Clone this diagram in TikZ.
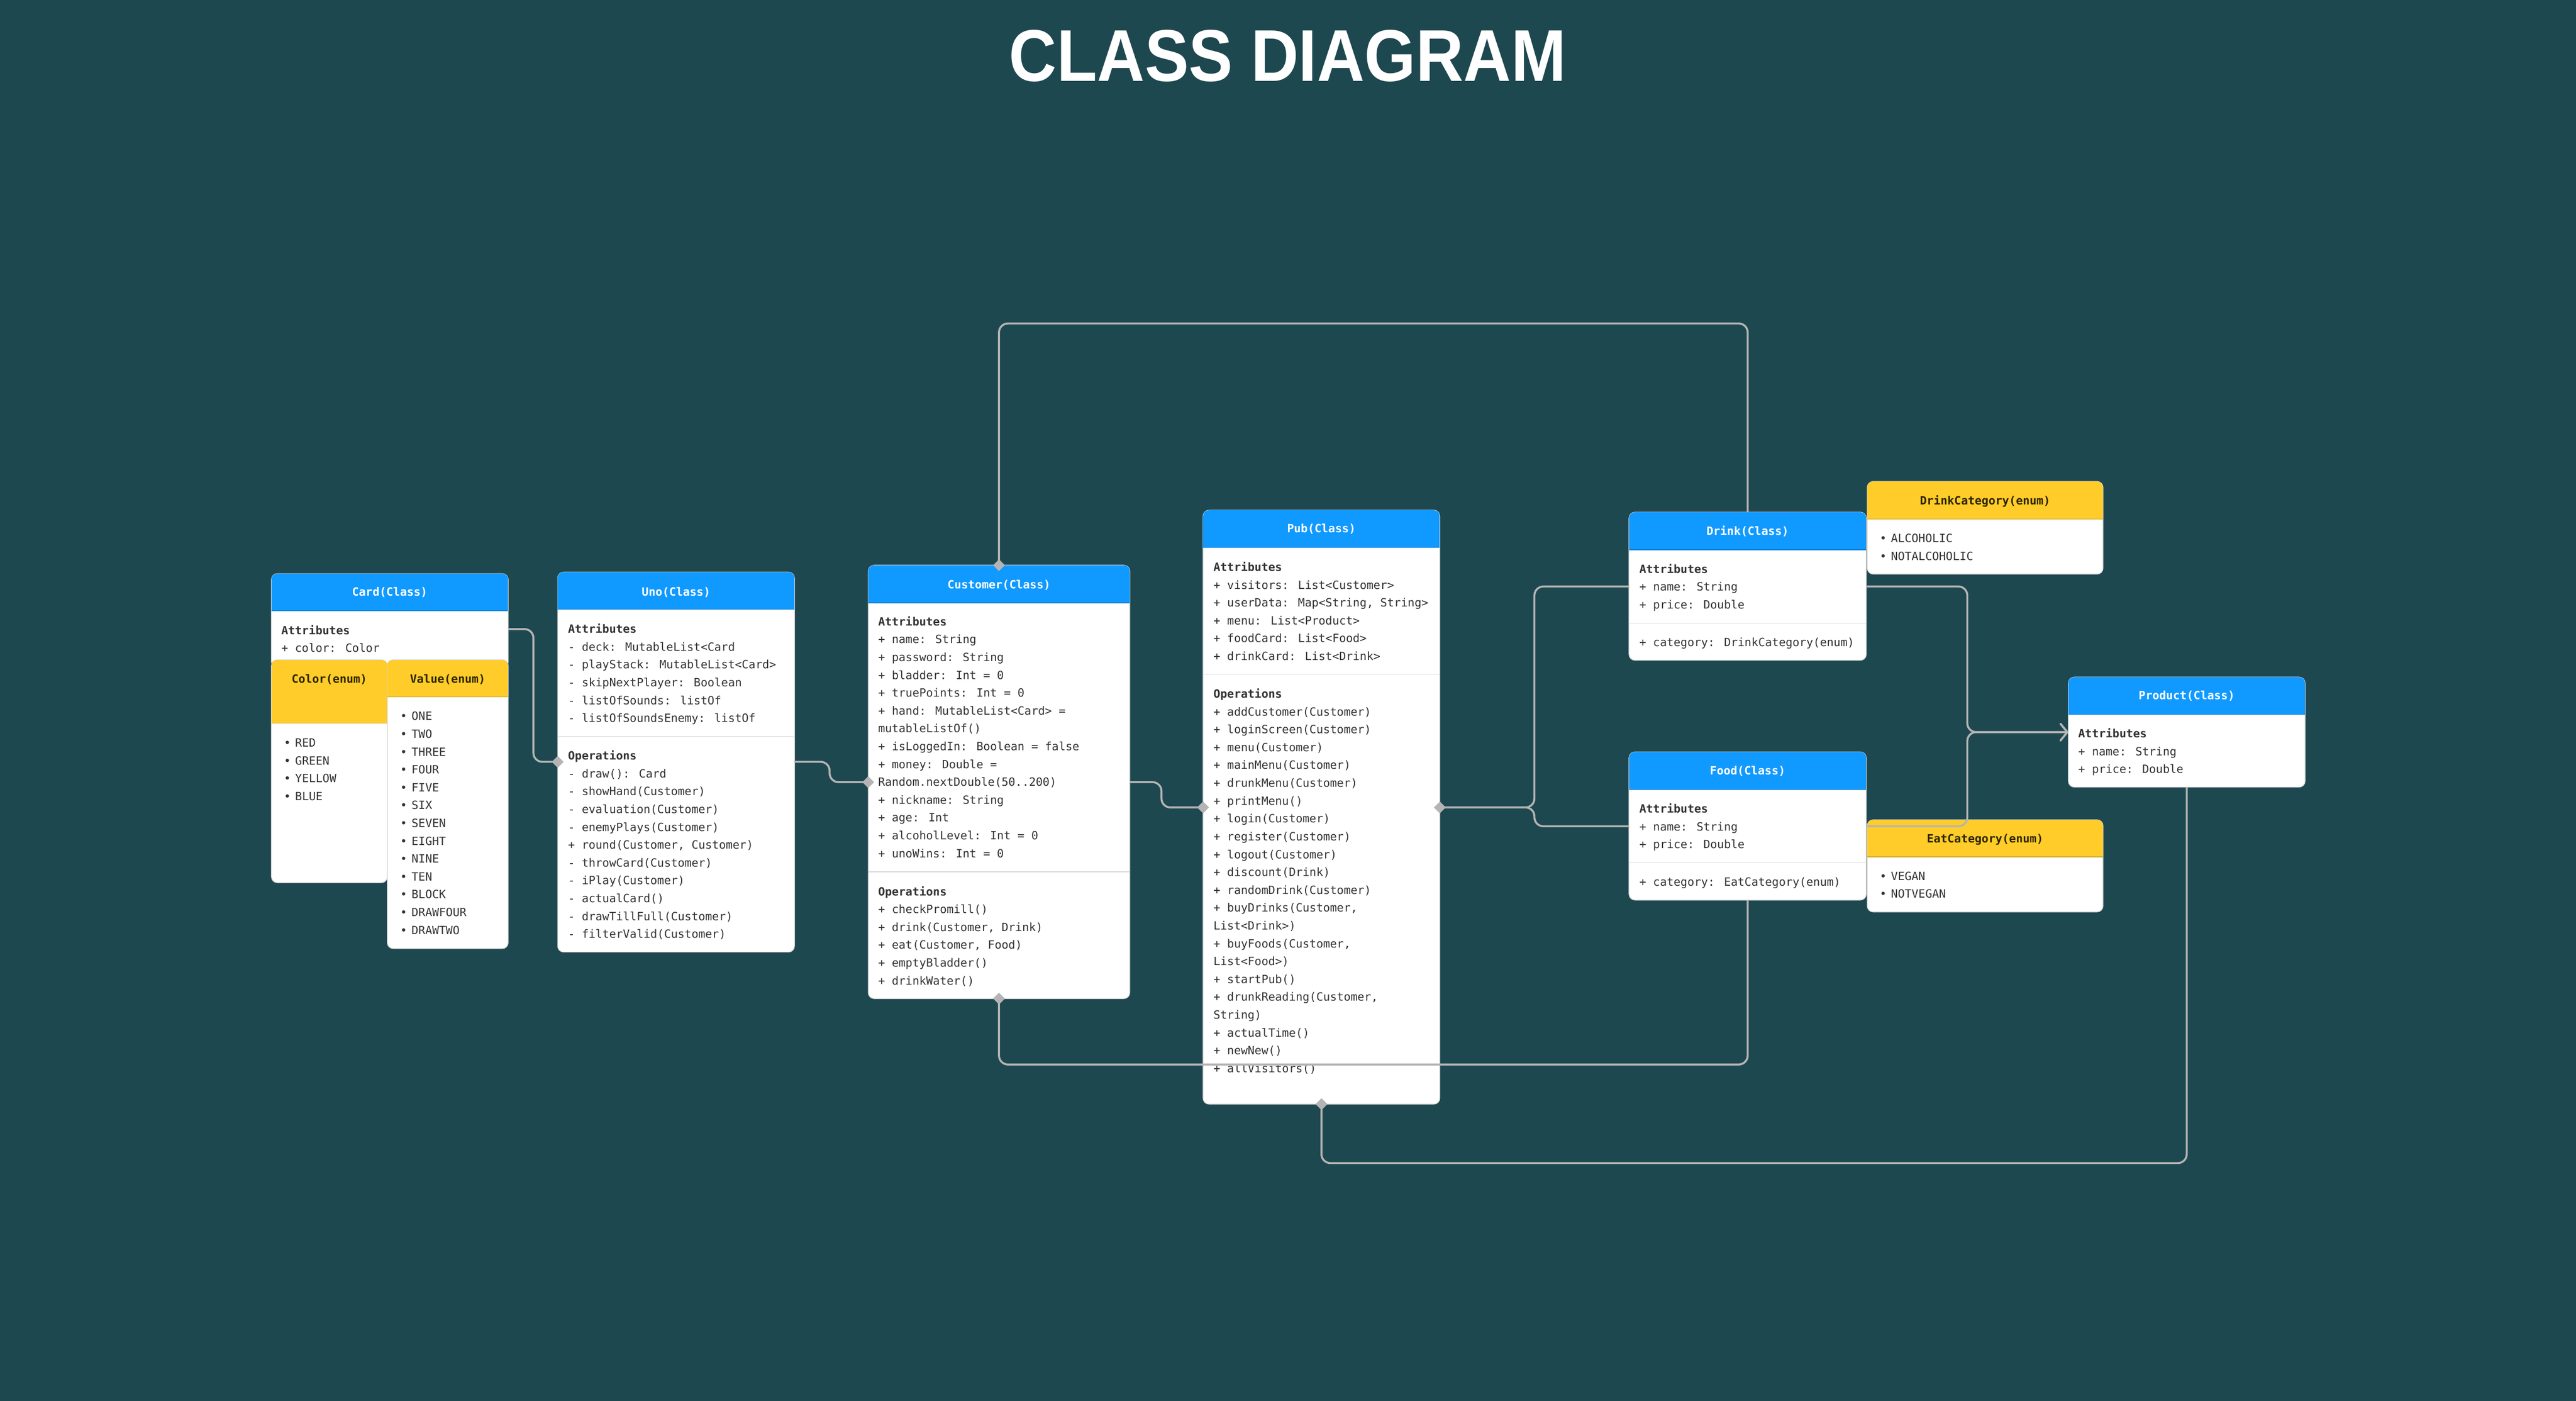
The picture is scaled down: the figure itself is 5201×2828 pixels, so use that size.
\documentclass[tikz,border=0pt]{standalone}
\usepackage{fontspec}
\usepackage{graphicx}
\usetikzlibrary{shapes.geometric,arrows.meta}
\newfontfamily\mono{DejaVu Sans Mono}
\newfontfamily\titlefont{Liberation Sans}
\definecolor{bgc}{RGB}{30,72,80}
\definecolor{hblue}{RGB}{16,153,255}
\definecolor{hyellow}{RGB}{255,204,41}
\definecolor{conn}{RGB}{180,180,180}
\definecolor{sepc}{RGB}{215,215,215}
\definecolor{txtc}{RGB}{51,51,51}
\definecolor{ytxt}{RGB}{46,37,0}
\tikzset{
  boxbody/.style={rectangle, rounded corners=12pt, fill=white, draw=sepc, line width=1.5pt,
    inner sep=0pt, outer sep=0pt, anchor=north west},
  txt/.style={anchor=base west, inner sep=0pt, outer sep=0pt, text=txtc, font=\mono\fontsize{23}{27}\selectfont},
  btxt/.style={txt, font=\mono\bfseries\fontsize{23}{27}\selectfont},
  htxtw/.style={anchor=base, inner sep=0pt, text=white, font=\mono\bfseries\fontsize{23}{27}\selectfont},
  htxty/.style={anchor=base, inner sep=0pt, text=ytxt, font=\mono\bfseries\fontsize{23}{27}\selectfont},
  sepline/.style={draw=sepc, line width=1.5pt},
  connector/.style={draw=conn, line width=4pt, rounded corners=18pt},
  dia/.style={diamond, fill=conn, minimum width=24pt, minimum height=24pt, inner sep=0pt},
  barb/.style={-{Straight Barb[length=14pt,width=34pt,line width=4pt,round]}}
}
\newcommand\umlbox[7]{%
  \node[boxbody, minimum width=#4pt, minimum height=#5pt] (#1) at (#2,#3) {};
  \begin{scope}
    \clip[rounded corners=12pt] (#1.north west) rectangle (#1.south east);
    \fill[#7] (#1.north west) rectangle ([yshift=-#6pt]#1.north east);
    \draw[#7!82!black, line width=1.5pt] ([yshift=-#6pt]#1.north west) -- ([yshift=-#6pt]#1.north east);
  \end{scope}}
\newcommand\bul{\llap{•\hspace{9pt}}}
\begin{document}
\begin{tikzpicture}[x=1pt,y=-1pt]
\useasboundingbox (0,0) rectangle (5201,2828);
\fill[bgc] (0,0) rectangle (5201,2828);

% title
\node[inner sep=0pt, text=white, font=\titlefont\bfseries\fontsize{148}{150}\selectfont] (title) at (2600,113) {\scalebox{0.9}[1]{CLASS DIAGRAM}};

% ---------- boxes ----------
\umlbox{card}{548}{1158}{478}{190}{75}{hblue}
\node[htxtw] (cardh) at (787,1203) {Card(Class)};
\node[btxt] (carda0) at (568,1281) {Attributes};
\node[txt] (carda1) at (568,1316) {+ color: Color};

\umlbox{colorenum}{548}{1332}{234}{450}{128}{hyellow}
\node[htxty] (colorh) at (665,1379) {Color(enum)};
\foreach \lbl [count=\i from 0] in {RED,GREEN,YELLOW,BLUE}
  \node[txt] (color\i) at (596,{1508+36*\i}) {\bul\lbl};

\umlbox{valueenum}{782}{1332}{244}{583}{75}{hyellow}
\node[htxty] (valueh) at (904,1379) {Value(enum)};
\foreach \lbl [count=\i from 0] in {ONE,TWO,THREE,FOUR,FIVE,SIX,SEVEN,EIGHT,NINE,TEN,BLOCK,DRAWFOUR,DRAWTWO}
  \node[txt] (value\i) at (831,{1454+36*\i}) {\bul\lbl};

\umlbox{uno}{1126}{1155}{478}{767}{75}{hblue}
\node[htxtw] (unoh) at (1365,1203) {Uno(Class)};
\node[btxt] (unoat) at (1147,1278) {Attributes};
\foreach \lbl [count=\i from 0] in {- deck: MutableList<Card,- playStack: MutableList<Card>,- skipNextPlayer: Boolean,- listOfSounds: listOf,- listOfSoundsEnemy: listOf}
  \node[txt] (unoa\i) at (1147,{1314+36*\i}) {\lbl};
\draw[sepline] (uno.west |- 0,1487) -- (uno.east |- 0,1487);
\node[btxt] (unoop) at (1147,1534) {Operations};
\foreach \lbl [count=\i from 0] in {- draw(): Card,- showHand(Customer),- evaluation(Customer),- enemyPlays(Customer),{+ round(Customer, Customer)},- throwCard(Customer),- iPlay(Customer),- actualCard(),- drawTillFull(Customer),- filterValid(Customer)}
  \node[txt] (unoo\i) at (1147,{1570+36*\i}) {\lbl};

\umlbox{customer}{1753}{1141}{528}{875}{76}{hblue}
\node[htxtw] (customerh) at (2017,1188) {Customer(Class)};
\node[btxt] (cuat) at (1773,1263) {Attributes};
\foreach \lbl [count=\i from 0] in {+ name: String,+ password: String,+ bladder: Int = 0,+ truePoints: Int = 0,+ hand: MutableList<Card> =,mutableListOf(),+ isLoggedIn: Boolean = false,+ money: Double =,Random.nextDouble(50..200),+ nickname: String,+ age: Int,+ alcoholLevel: Int = 0,+ unoWins: Int = 0}
  \node[txt] (cua\i) at (1773,{1299+36*\i}) {\lbl};
\draw[sepline] (customer.west |- 0,1760) -- (customer.east |- 0,1760);
\node[btxt] (cuop) at (1773,1808) {Operations};
\foreach \lbl [count=\i from 0] in {+ checkPromill(),{+ drink(Customer, Drink)},{+ eat(Customer, Food)},+ emptyBladder(),+ drinkWater()}
  \node[txt] (cuo\i) at (1773,{1844+36*\i}) {\lbl};

\umlbox{pub}{2429}{1030}{478}{1199}{75}{hblue}
\node[htxtw] (pubh) at (2668,1075) {Pub(Class)};
\node[btxt] (pubat) at (2450,1153) {Attributes};
\foreach \lbl [count=\i from 0] in {+ visitors: List<Customer>,{+ userData: Map<String, String>},+ menu: List<Product>,+ foodCard: List<Food>,+ drinkCard: List<Drink>}
  \node[txt] (puba\i) at (2450,{1189+36*\i}) {\lbl};
\draw[sepline] (pub.west |- 0,1361) -- (pub.east |- 0,1361);
\node[btxt] (pubop) at (2450,1409) {Operations};
\foreach \lbl [count=\i from 0] in {+ addCustomer(Customer),+ loginScreen(Customer),+ menu(Customer),+ mainMenu(Customer),+ drunkMenu(Customer),+ printMenu(),+ login(Customer),+ register(Customer),+ logout(Customer),+ discount(Drink),+ randomDrink(Customer),{+ buyDrinks(Customer,},List<Drink>),{+ buyFoods(Customer,},List<Food>),+ startPub(),{+ drunkReading(Customer,},String),+ actualTime(),+ newNew(),+ allVisitors()}
  \node[txt] (pubo\i) at (2450,{1445+36*\i}) {\lbl};

\umlbox{drink}{3289}{1034}{479}{299}{76}{hblue}
\node[htxtw] (drinkh) at (3528.5,1080) {Drink(Class)};
\node[btxt] (drat) at (3310,1157) {Attributes};
\node[txt] (dra0) at (3310,1193) {+ name: String};
\node[txt] (dra1) at (3310,1229) {+ price: Double};
\draw[sepline] (drink.west |- 0,1258) -- (drink.east |- 0,1258);
\node[txt] (dra2) at (3310,1305) {+ category: DrinkCategory(enum)};

\umlbox{dcat}{3770}{972}{476}{187}{76}{hyellow}
\node[htxty] (dcath) at (4008,1019) {DrinkCategory(enum)};
\node[txt] (dcat0) at (3818,1095) {\bul ALCOHOLIC};
\node[txt] (dcat1) at (3818,1131) {\bul NOTALCOHOLIC};

\umlbox{food}{3289}{1518}{479}{299}{76}{hblue}
\node[htxtw] (foodh) at (3528.5,1564) {Food(Class)};
\node[btxt] (foat) at (3310,1641) {Attributes};
\node[txt] (foa0) at (3310,1677) {+ name: String};
\node[txt] (foa1) at (3310,1713) {+ price: Double};
\draw[sepline] (food.west |- 0,1742) -- (food.east |- 0,1742);
\node[txt] (foa2) at (3310,1789) {+ category: EatCategory(enum)};

\umlbox{ecat}{3770}{1655}{476}{186}{75}{hyellow}
\node[htxty] (ecath) at (4008,1701) {EatCategory(enum)};
\node[txt] (ecat0) at (3818,1777) {\bul VEGAN};
\node[txt] (ecat1) at (3818,1813) {\bul NOTVEGAN};

\umlbox{product}{4176}{1367}{478}{222}{75}{hblue}
\node[htxtw] (producth) at (4415,1412) {Product(Class)};
\node[btxt] (prat) at (4196,1489) {Attributes};
\node[txt] (pra0) at (4196,1525) {+ name: String};
\node[txt] (pra1) at (4196,1561) {+ price: Double};

% ---------- connectors ----------
\draw[connector] (card.east |- 0,1270) -- (1077,1270) -- (1077,1538) -- (uno.west |- 0,1538);
\draw[connector] (uno.east |- 0,1538) -- (1675,1538) -- (1675,1579) -- (customer.west |- 0,1579);
\draw[connector] (customer.east |- 0,1579) -- (2345,1579) -- (2345,1630) -- (pub.west |- 0,1630);
\draw[connector] (pub.east |- 0,1630) -- (3098,1630) -- (3098,1184) -- (drink.west |- 0,1184);
\draw[connector] (pub.east |- 0,1630) -- (3098,1630) -- (3098,1668) -- (food.west |- 0,1668);
\draw[connector,barb] (drink.east |- 0,1184) -- (3972,1184) -- (3972,1478) -- (product.west |- 0,1478);
\draw[connector,barb] (food.east |- 0,1668) -- (3972,1668) -- (3972,1478) -- (product.west |- 0,1478);
\draw[connector] (customer.north) -- (customer.north |- 0,653) -- (drink.north |- 0,653) -- (drink.north);
\draw[connector] (customer.south) -- (customer.south |- 0,2149) -- (food.south |- 0,2149) -- (food.south);
\draw[connector] (product.south) -- (product.south |- 0,2348) -- (pub.south |- 0,2348) -- (pub.south);

% ---------- diamonds ----------
\node[dia] (d1) at (uno.west |- 0,1538) {};
\node[dia] (d2) at (customer.west |- 0,1579) {};
\node[dia] (d3) at (pub.west |- 0,1630) {};
\node[dia] (d4) at (pub.east |- 0,1630) {};
\node[dia] (d5) at (customer.north) {};
\node[dia] (d6) at (customer.south) {};
\node[dia] (d7) at (pub.south) {};
\end{tikzpicture}
\end{document}
